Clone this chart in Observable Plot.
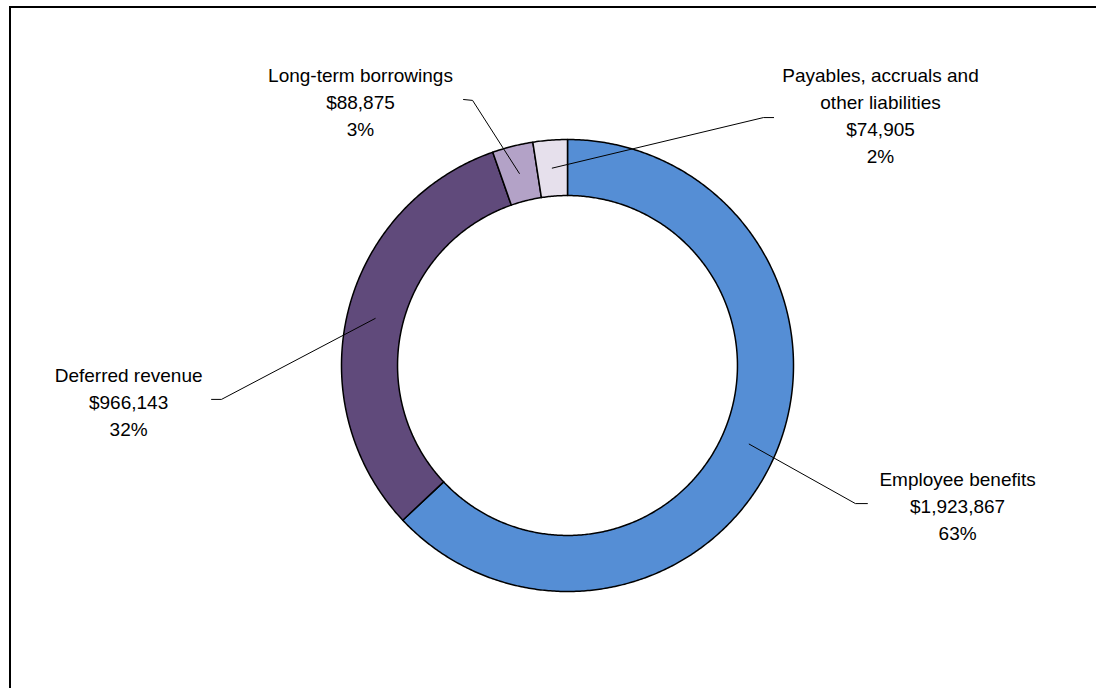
<!DOCTYPE html>
<html>
<head>
<meta charset="utf-8">
<script src="https://cdn.jsdelivr.net/npm/d3@7"></script>
<script src="https://cdn.jsdelivr.net/npm/@observablehq/plot@0.6"></script>
<style>
  html, body { margin: 0; padding: 0; background: #fff; overflow: hidden; }
  #wrap { position: relative; width: 1096px; height: 688px; overflow: hidden; }
  #frame { position: absolute; left: 0; top: 0; }
  #chart { position: absolute; left: 0; top: 0; }
</style>
</head>
<body>
<div id="wrap">
<svg id="frame" width="1096" height="688"><path d="M10,688V7H1096" fill="none" stroke="#000" stroke-width="2"/></svg>
<div id="chart"></div>
</div>
<script>
// ---- data ----
const categories = ["Employee benefits", "Deferred revenue", "Long-term borrowings", "Payables, accruals and other liabilities"];
const categoryLabels = ["Employee benefits", "Deferred revenue", "Long-term borrowings", "Payables, accruals and\nother liabilities"];
const values = [1923867, 966143, 88875, 74905];
const colors = ["#558ED5", "#604A7B", "#B3A2C7", "#E6E0EC"];

// ---- layout (unit = outer radius) ----
const innerRatio = 0.752;
const leaderElbow = [[1.274, -0.611], [-1.531, -0.150], [-0.420, 1.173], [0.867, 1.097]];
const leaderEnd   = [[1.327, -0.611], [-1.575, -0.150], [-0.460, 1.177], [0.912, 1.097]];
const labelPos    = [[1.726, -0.615], [-1.942, -0.155], [-0.916, 1.175], [1.385, 1.112]];

const total = d3.sum(values);
const rows = categories.map((c, i) => ({name: c, label: categoryLabels[i], value: values[i]}));
const arcs = d3.pie().sort(null).value(d => d.value)(rows);

// ring polygons
const ring = [];
arcs.forEach(a => {
  const n = Math.max(4, Math.ceil((a.endAngle - a.startAngle) / (Math.PI / 360)));
  for (let k = 0; k <= n; k++) {
    const t = a.startAngle + (a.endAngle - a.startAngle) * k / n;
    ring.push({name: a.data.name, x: Math.sin(t), y: Math.cos(t)});
  }
  for (let k = n; k >= 0; k--) {
    const t = a.startAngle + (a.endAngle - a.startAngle) * k / n;
    ring.push({name: a.data.name, x: innerRatio * Math.sin(t), y: innerRatio * Math.cos(t)});
  }
});

// leader lines
const midR = (1 + innerRatio) / 2;
const leaders = [];
arcs.forEach((a, i) => {
  const m = (a.startAngle + a.endAngle) / 2;
  leaders.push({name: a.data.name, x: midR * Math.sin(m), y: midR * Math.cos(m)});
  leaders.push({name: a.data.name, x: leaderElbow[i][0], y: leaderElbow[i][1]});
  leaders.push({name: a.data.name, x: leaderEnd[i][0], y: leaderEnd[i][1]});
});

const fmt = d3.format("$,");
const labels = arcs.map((a, i) => ({
  x: labelPos[i][0], y: labelPos[i][1],
  text: `${a.data.label}\n${fmt(a.data.value)}\n${Math.round(a.data.value / total * 100)}%`
}));

const chart = Plot.plot({
  width: 1096,
  height: 688,
  margin: 0,
  style: {fontFamily: "'Liberation Sans', Arial, sans-serif", background: "transparent"},
  x: {domain: [-1, 1], range: [341, 793], axis: null},
  y: {domain: [-1, 1], range: [591, 139], axis: null},
  color: {type: "ordinal", domain: categories, range: colors},
  marks: [
    Plot.line(ring, {x: "x", y: "y", z: "name", fill: "name", stroke: "#000", strokeWidth: 1.5, curve: "linear-closed", strokeLinejoin: "round"}),
    Plot.line(leaders, {x: "x", y: "y", z: "name", stroke: "#000", strokeWidth: 1}),
    Plot.text(labels, {x: "x", y: "y", text: "text", lineHeight: 1.42, fontSize: 19, fill: "#000", textAnchor: "middle"})
  ]
});
document.getElementById("chart").appendChild(chart);
</script>
</body>
</html>
